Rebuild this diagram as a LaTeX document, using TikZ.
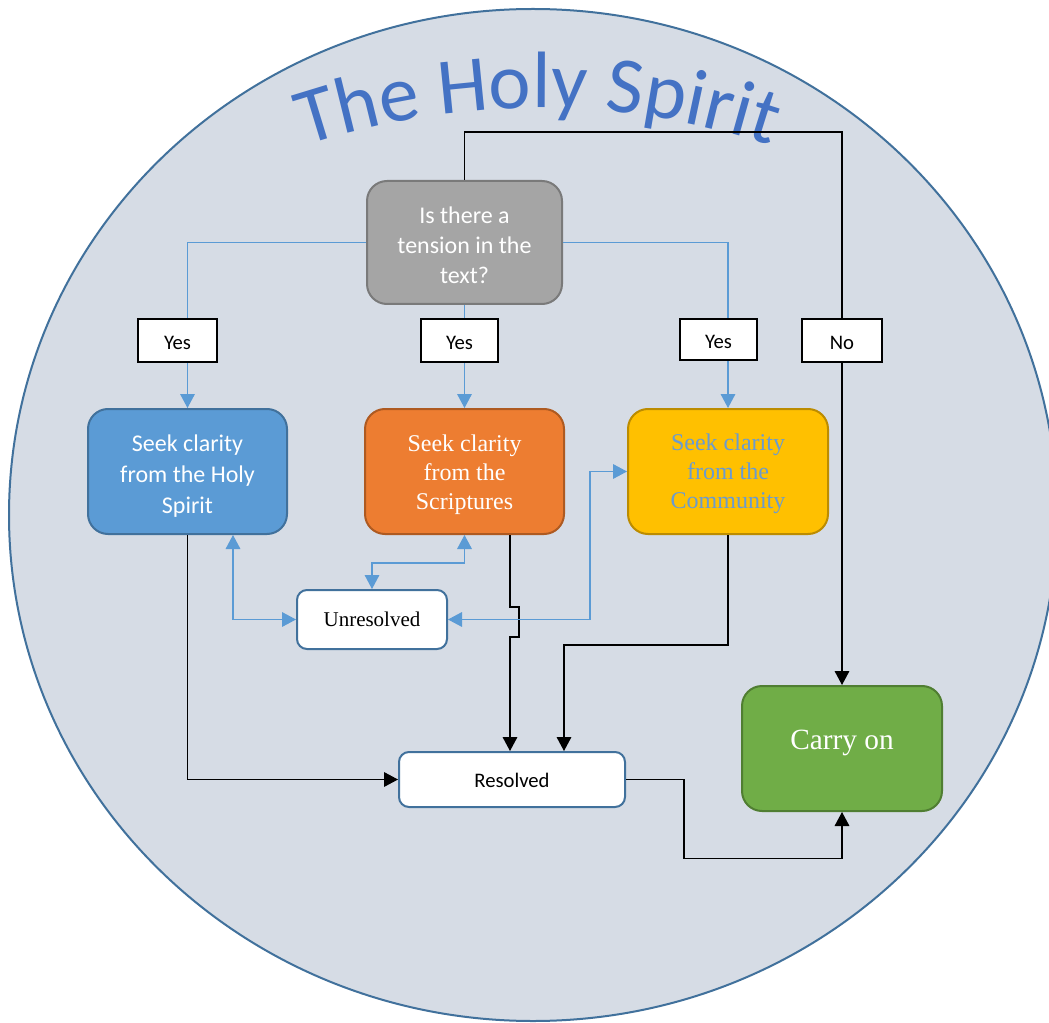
\documentclass[tikz,border=0pt]{standalone}
\usepackage{fontspec}
\setmainfont{Liberation Serif}
\newfontfamily\carl{Carlito}
\usetikzlibrary{arrows.meta,decorations.text,calc}
\definecolor{bgfill}{HTML}{D6DCE5}
\definecolor{bgline}{HTML}{41719C}
\definecolor{titleblue}{HTML}{4472C4}
\definecolor{lblue}{HTML}{5B9BD5}
\definecolor{gfill}{HTML}{A5A5A5}
\definecolor{gline}{HTML}{7A7A7A}
\definecolor{ofill}{HTML}{ED7D31}
\definecolor{oline}{HTML}{AE5A21}
\definecolor{yfill}{HTML}{FFC000}
\definecolor{yline}{HTML}{BC8C00}
\definecolor{ytext}{HTML}{6A9BD0}
\definecolor{gnfill}{HTML}{70AD47}
\definecolor{gnline}{HTML}{507E32}
\begin{document}
\begin{tikzpicture}[x=0.75pt,y=-0.75pt,
  box/.style={rounded corners=15pt, line width=1.5pt, align=center, inner sep=0pt, text=white, text depth=0pt},
  bigbox/.style={box, minimum width=149.25pt, minimum height=93.75pt},
  smallbox/.style={box, rounded corners=7.5pt, fill=white, draw=bgline, text=black},
  lbl/.style={draw=black, fill=white, line width=0.8pt, inner sep=0pt, text height=14pt, text depth=0pt,
    font=\carl\fontsize{15.5}{18}\selectfont},
  bl/.style={draw=lblue, line width=0.8pt},
  bk/.style={draw=black, line width=0.9pt},
  arr/.style={-{Triangle[length=10.5pt,width=11pt]}},
  darr/.style={{Triangle[length=10.5pt,width=11pt]}-{Triangle[length=10.5pt,width=11pt]}}
]
\useasboundingbox (0,0) rectangle (1049,1023);
\clip (0,0) rectangle (1049,1023);
\fill[white] (0,0) rectangle (1049,1023);
\draw[fill=bgfill, draw=bgline, line width=1.5pt] (533,515) ellipse [x radius=524, y radius=506];

% title
\path[decorate, decoration={text along path, text align=center,
  text={|\carl\fontsize{60}{70}\selectfont\color{titleblue}|The Holy Spirit}}]
  ([shift={(120:551.25pt)}]538,843) arc[start angle=120, end angle=60, radius=551.25pt];

% nodes
\node[box, fill=gfill, draw=gline, minimum width=146.25pt, minimum height=92.25pt, text height=61.5pt,
  font=\carl\fontsize{18}{22.5}\selectfont] (top) at (464.5,242.5) {Is there a\\tension in the\\text?};
\node[bigbox, fill=lblue, draw=bgline, text height=62.25pt, font=\carl\fontsize{18}{23.25}\selectfont] (blue) at (187.5,471.5) {Seek clarity\\from the Holy\\Spirit};
\node[bigbox, fill=ofill, draw=oline, text height=56.25pt, font=\fontsize{18}{21.75}\selectfont] (orange) at (464.5,471.5) {Seek clarity\\from the\\Scriptures};
\node[bigbox, minimum width=150pt, fill=yfill, draw=yline, text=ytext, text height=54.75pt, font=\fontsize{18}{21.75}\selectfont] (yellow) at (728,471.5) {Seek clarity\\from the\\Community};
\node[smallbox, minimum width=112.5pt, minimum height=44.25pt, text height=9.75pt, font=\fontsize{15.75}{18}\selectfont] (unres) at (372,619.5) {Unresolved};
\node[smallbox, minimum width=169.5pt, minimum height=41.25pt, text height=11.25pt, font=\carl\fontsize{15.5}{18}\selectfont] (res) at (512,779.5) {Resolved};
\node[box, fill=gnfill, draw=gnline, minimum width=150pt, minimum height=93.75pt, text height=1pt, font=\fontsize{22}{26}\selectfont] (carry) at (842,748.5) {Carry on};

% blue connectors from the question
\draw[bl, arr] (top.west) -| (blue.north);
\draw[bl, arr] (top.south) -- (orange.north);
\draw[bl, arr] (top.east) -| (yellow.north);

% black connectors
\draw[bk, arr] (top.north) -- ++(0,-48) -| (carry.north);
\draw[bk, arr] (blue.south) |- (res.west);
\coordinate (os) at ($(orange.south)+(45.5,0)$);
\draw[bk, arr] (os) -- ++(0,72) -- ++(9,0) -- ++(0,30) -- ++(-9,0) -- (os |- res.north);
\draw[bk, arr] (yellow.south) -- ++(0,110) -| ($(res.north)+(52,0)$);
\draw[bk, arr] (res.east) -- ++(58,0) -- ++(0,79) -| (carry.south);

% unresolved loops
\draw[bl, darr] ($(blue.south)+(45.5,0)$) |- (unres.west);
\draw[bl, darr] (orange.south) -- ++(0,28) -| (unres.north);
\draw[bl, darr] (unres.east) -- ++(142,0) |- (yellow.west);

% labels
\node[lbl, minimum width=59.25pt, minimum height=32.25pt] (yes1) at (177.5,340.5) {Yes};
\node[lbl, minimum width=57.75pt, minimum height=32.25pt] (yes2) at (459.5,340.5) {Yes};
\node[lbl, minimum width=57.75pt, minimum height=30.75pt] (yes3) at (718.5,339.5) {Yes};
\node[lbl, minimum width=60pt, minimum height=32.25pt] (no) at (842,340.5) {No};
\end{tikzpicture}
\end{document}
